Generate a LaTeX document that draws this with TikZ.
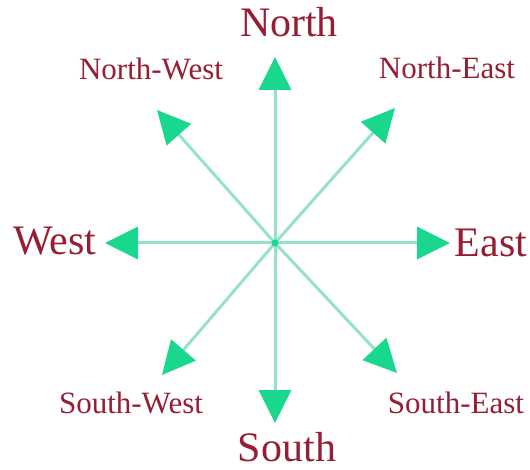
\documentclass[tikz,border=0pt]{standalone}
\usepackage{fontspec}
\setmainfont{Liberation Serif}
\usetikzlibrary{arrows.meta}
\definecolor{linegreen}{RGB}{150,225,200}
\definecolor{tipgreen}{RGB}{25,215,140}
\definecolor{labelred}{RGB}{150,30,50}
\tikzset{
  dirarrow/.style={draw=linegreen, line width=3pt,
    -{Triangle[length=33pt,width=32pt,fill=tipgreen,color=tipgreen]}},
  biglabel/.style={anchor=base, text=labelred, font=\fontsize{42}{44}\selectfont, inner sep=0pt},
  smalllabel/.style={anchor=base, text=labelred, font=\fontsize{31}{33}\selectfont, inner sep=0pt}
}
\begin{document}
\begin{tikzpicture}[x=1pt,y=-1pt]
\useasboundingbox (0,0) rectangle (530,470);
\coordinate (c) at (275,243);
\coordinate (n) at (275,57);
\coordinate (s) at (275,423);
\coordinate (e) at (450,243);
\coordinate (w) at (105,243);
\coordinate (ne) at (395,108);
\coordinate (nw) at (157,110);
\coordinate (sw) at (162,375);
\coordinate (se) at (397,373);
\foreach \t in {n,s,e,w,ne,nw,sw,se}
  \draw[dirarrow] (c) -- (\t);
\node[circle, fill=tipgreen, inner sep=0pt, minimum size=7pt] (dot) at (c) {};
\node[biglabel] (lN) at (289,37) {North};
\node[biglabel] (lS) at (287,461) {South};
\node[biglabel] (lW) at (55,255) {West};
\node[biglabel] (lE) at (491,257) {East};
\node[smalllabel] (lNW) at (151,80) {North-West};
\node[smalllabel] (lNE) at (447,79) {North-East};
\node[smalllabel] (lSW) at (131,413) {South-West};
\node[smalllabel] (lSE) at (456,413) {South-East};
\end{tikzpicture}
\end{document}
